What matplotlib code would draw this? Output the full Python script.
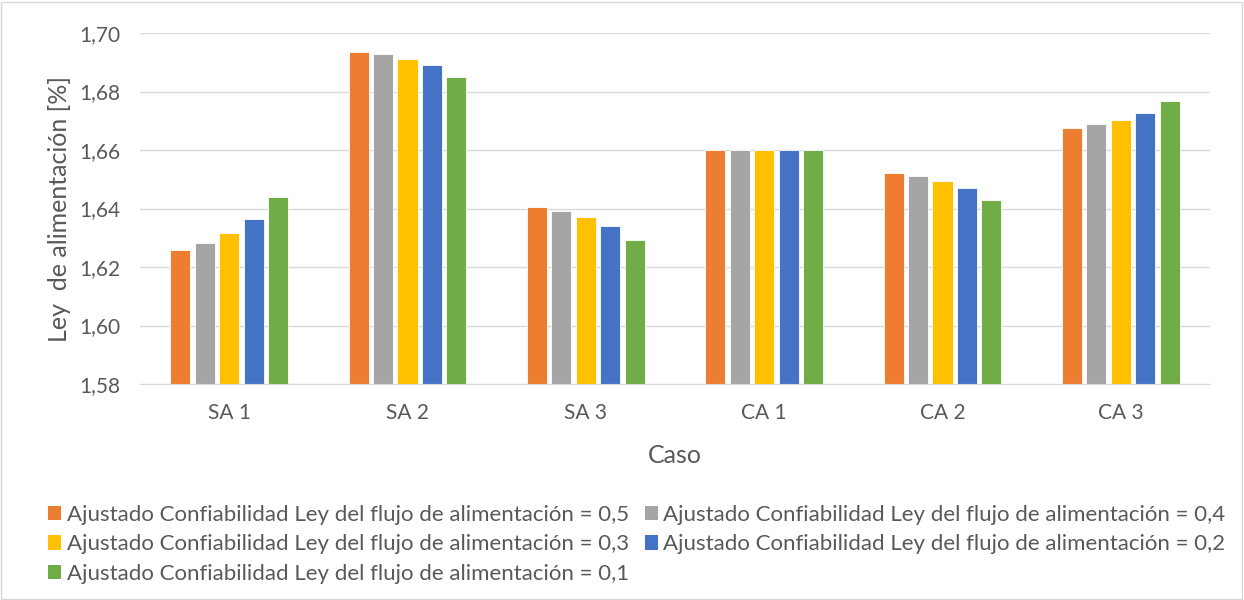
import matplotlib.pyplot as plt
import numpy as np
from matplotlib.patches import Patch, Rectangle

cases = ["SA 1", "SA 2", "SA 3", "CA 1", "CA 2", "CA 3"]
series_names = [
    "Ajustado Confiabilidad Ley del flujo de alimentación = 0,5",
    "Ajustado Confiabilidad Ley del flujo de alimentación = 0,4",
    "Ajustado Confiabilidad Ley del flujo de alimentación = 0,3",
    "Ajustado Confiabilidad Ley del flujo de alimentación = 0,2",
    "Ajustado Confiabilidad Ley del flujo de alimentación = 0,1",
]
conf_05 = [1.6258, 1.6936, 1.6405, 1.6600, 1.6521, 1.6675]
conf_04 = [1.6281, 1.6927, 1.6390, 1.6600, 1.6510, 1.6688]
conf_03 = [1.6315, 1.6911, 1.6370, 1.6600, 1.6493, 1.6704]
conf_02 = [1.6363, 1.6889, 1.6340, 1.6600, 1.6469, 1.6728]
conf_01 = [1.6439, 1.6851, 1.6292, 1.6600, 1.6430, 1.6768]
yticks = [1.58, 1.60, 1.62, 1.64, 1.66, 1.68, 1.70]

colours = ["#ed7d31", "#a5a5a5", "#ffc000", "#4472c4", "#70ad47"]
text_col = "#595959"
grid_col = "#d9d9d9"

plt.rcParams["font.family"] = ["Lato", "DejaVu Sans"]

fig = plt.figure(figsize=(12.44, 6), dpi=100)
ax = fig.add_axes([140 / 1244, 216 / 600, 1070 / 1244, 351 / 600])

values = [conf_05, conf_04, conf_03, conf_02, conf_01]
x = np.arange(len(cases))
slot = 0.137
width = 0.113
handles = []
for i, (vals, col, name) in enumerate(zip(values, colours, series_names)):
    pos = x + (i - 2) * slot
    ax.bar(pos, np.array(vals) - 1.58, width, bottom=1.58, color=col,
           edgecolor="white", linewidth=0.6, zorder=3)
    handles.append(Patch(facecolor=col, label=name))

ax.set_xlim(-0.5, len(cases) - 0.5)
ax.set_ylim(1.58, 1.70)
ax.set_yticks(yticks)
ax.set_yticklabels([f"{v:.2f}".replace(".", ",") for v in yticks])
ax.set_xticks(x)
ax.set_xticklabels(cases)
ax.tick_params(length=0, labelsize=15, colors=text_col)
ax.tick_params(axis="x", pad=14)
ax.tick_params(axis="y", pad=14)
ax.grid(axis="y", color=grid_col, linewidth=1, zorder=0)
for s in ["top", "right", "left"]:
    ax.spines[s].set_visible(False)
ax.spines["bottom"].set_color(grid_col)
ax.spines["bottom"].set_zorder(4)

ax.set_ylabel("Ley  de alimentación [%]", fontsize=18, color=text_col, labelpad=6)
ax.set_xlabel("Caso", fontsize=18, color=text_col, labelpad=15)

order = [0, 2, 4, 1, 3]
leg = fig.legend([handles[i] for i in order], [series_names[i] for i in order],
                 ncol=2, loc="upper left", bbox_to_anchor=(48 / 1244, 1 - 505 / 600),
                 frameon=False, fontsize=16, handlelength=0.6, handleheight=0.6,
                 handletextpad=0.25, columnspacing=0.7, labelspacing=0.42,
                 labelcolor=text_col, borderaxespad=0, borderpad=0)

fig.patches.append(Rectangle((1 / 1244, 1 / 600), 1241 / 1244, 597 / 600,
                             transform=fig.transFigure, fill=False,
                             edgecolor=grid_col, linewidth=1))

fig.savefig("out.png", dpi=100)
